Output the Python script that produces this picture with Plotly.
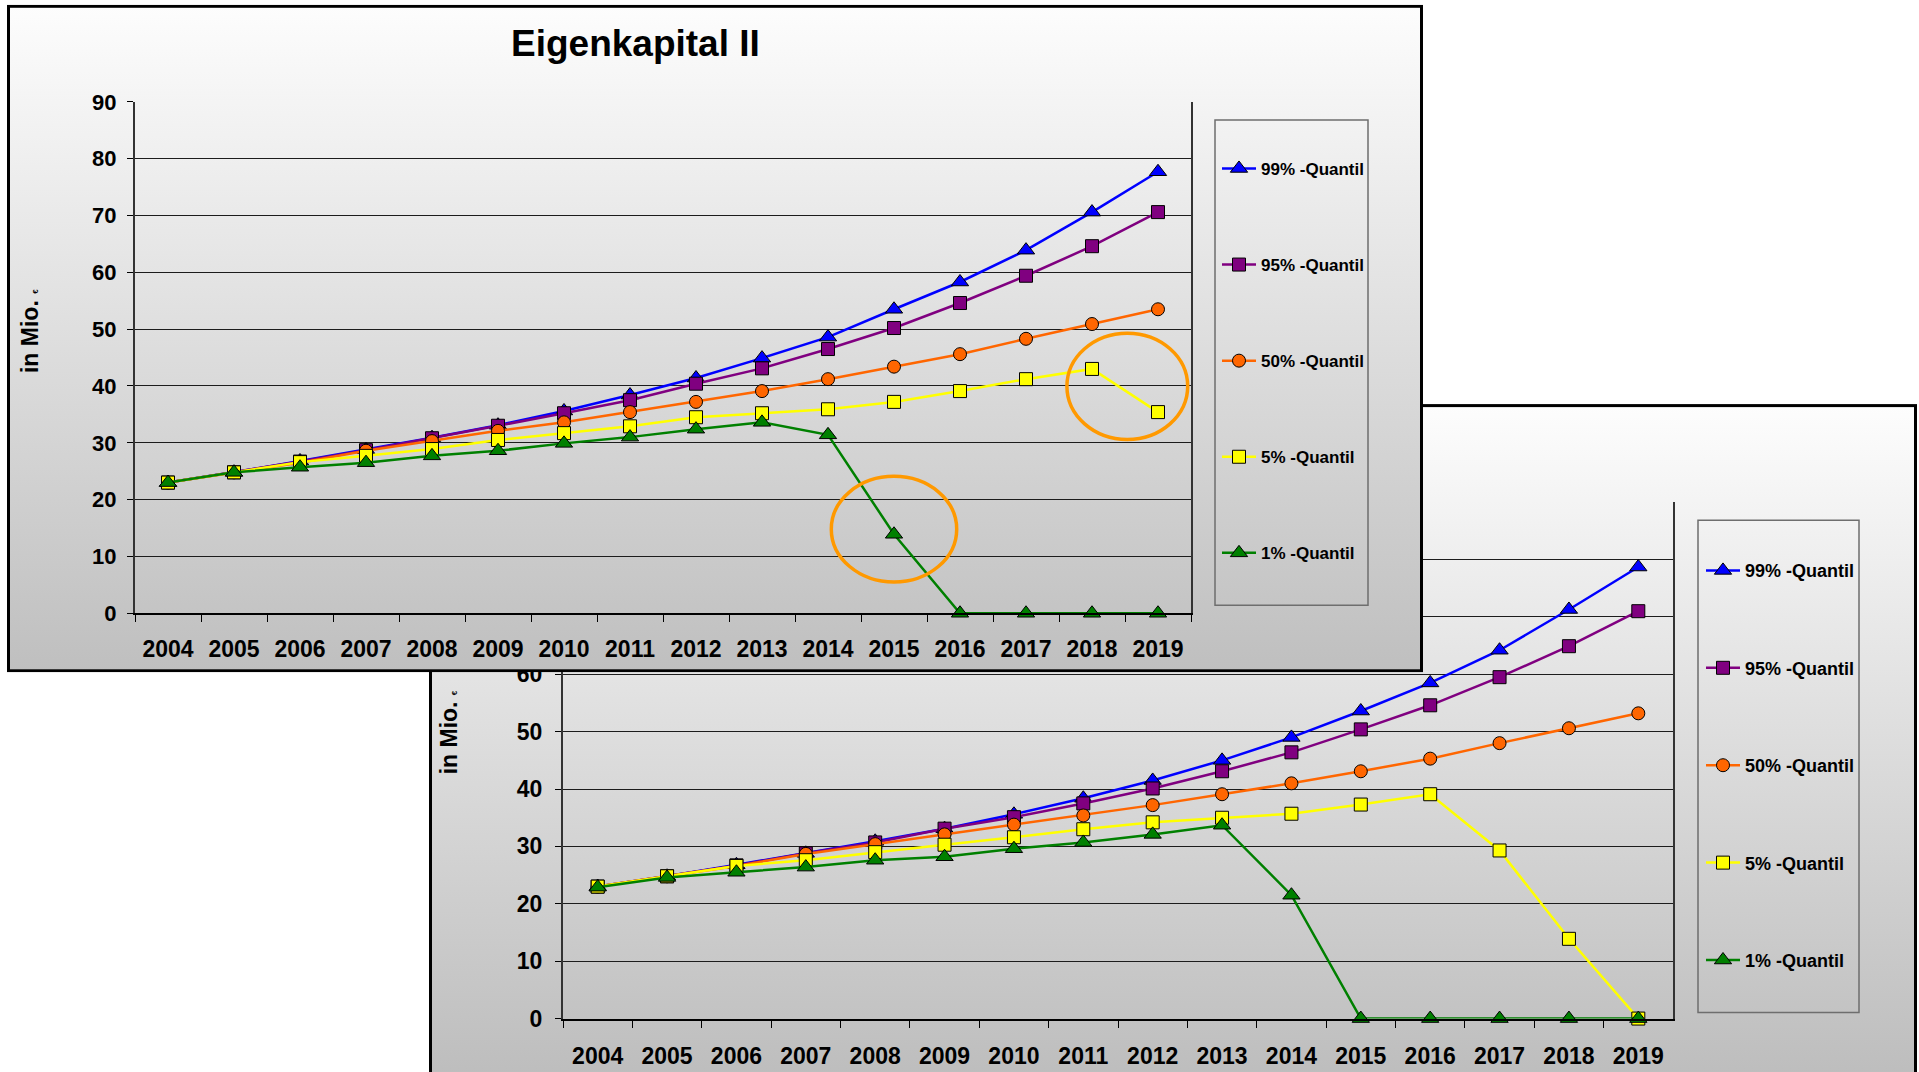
import base64
import plotly.graph_objects as go

W, H = 1919, 1072

# ---- data -------------------------------------------------------------
years = [str(y) for y in range(2004, 2020)]
quantile_names = ["99% -Quantil", "95% -Quantil", "50% -Quantil", "5% -Quantil", "1% -Quantil"]

# upper chart (Eigenkapital II)
upper_q99 = [23.0, 24.8, 26.8, 28.8, 30.9, 33.1, 35.6, 38.4, 41.4, 44.9, 48.6, 53.5, 58.3, 63.9, 70.6, 77.7]
upper_q95 = [23.0, 24.8, 26.7, 28.7, 30.8, 33.0, 35.2, 37.5, 40.4, 43.1, 46.5, 50.2, 54.6, 59.4, 64.6, 70.6]
upper_q50 = [23.0, 24.8, 26.5, 28.6, 30.3, 32.1, 33.6, 35.4, 37.2, 39.1, 41.2, 43.4, 45.6, 48.3, 50.9, 53.5]
upper_q05 = [23.0, 24.8, 26.6, 27.7, 28.9, 30.5, 31.7, 32.9, 34.5, 35.2, 35.9, 37.2, 39.1, 41.2, 43.0, 35.4]
upper_q01 = [23.0, 24.8, 25.7, 26.5, 27.7, 28.6, 29.9, 31.0, 32.4, 33.6, 31.4, 13.9, 0.0, 0.0, 0.0, 0.0]

# lower chart
lower_q99 = [23.0, 24.8, 26.8, 28.8, 30.9, 33.1, 35.6, 38.4, 41.5, 45.0, 49.0, 53.6, 58.5, 64.2, 71.3, 78.7]
lower_q95 = [23.0, 24.8, 26.7, 28.8, 30.7, 33.1, 35.1, 37.5, 40.1, 43.1, 46.4, 50.4, 54.6, 59.5, 64.9, 71.0]
lower_q50 = [23.0, 24.8, 26.6, 28.7, 30.4, 32.1, 33.8, 35.4, 37.2, 39.1, 41.0, 43.1, 45.3, 48.0, 50.6, 53.2]
lower_q05 = [23.0, 24.8, 26.6, 27.6, 29.0, 30.3, 31.6, 33.0, 34.2, 35.0, 35.7, 37.3, 39.1, 29.3, 13.9, 0.0]
lower_q01 = [22.9, 24.6, 25.5, 26.4, 27.6, 28.2, 29.6, 30.7, 32.1, 33.7, 21.5, 0.0, 0.0, 0.0, 0.0, 0.0]

y_ticks = list(range(0, 91, 10))

upper_series = [upper_q99, upper_q95, upper_q50, upper_q05, upper_q01]
lower_series = [lower_q99, lower_q95, lower_q50, lower_q05, lower_q01]

# ---- style ------------------------------------------------------------
colors = ["#0000FF", "#800080", "#FF6600", "#FFFF00", "#008000"]
symbols = ["triangle-up", "square", "circle", "square", "triangle-up"]
marker_sizes = [15, 13, 13, 13, 15]
FONT = "Liberation Sans, Arial, Helvetica, sans-serif"

# vertical placement: rows are given in page pixels; the figure is laid out
# so that a row r lands at ROW_OFF + ROW_SCALE * r on the page
ROW_OFF, ROW_SCALE = 13.2, 0.975


def fx(px):
    return px / W


def row(py):
    return (py - ROW_OFF) / ROW_SCALE


def fy(py):
    return 1 - row(py) / H


# plot areas in pixels: left, top, right, bottom
UP = (135, 102, 1191, 613)
LO = (563, 502, 1673, 1018)


def panel_uri(w, h, top_col, bottom_col, stroke=3):
    s = stroke / 2
    svg = (
        f'<svg xmlns="http://www.w3.org/2000/svg" width="{w}" height="{h}" '
        f'viewBox="0 0 {w} {h}" preserveAspectRatio="none">'
        '<defs><linearGradient id="g" x1="0" y1="0" x2="0" y2="1">'
        f'<stop offset="0" stop-color="{top_col}"/>'
        f'<stop offset="1" stop-color="{bottom_col}"/>'
        '</linearGradient></defs>'
        f'<rect x="{s}" y="{s}" width="{w - stroke}" height="{h - stroke}" '
        f'fill="url(#g)" stroke="#000000" stroke-width="{stroke}"/></svg>'
    )
    return "data:image/svg+xml;base64," + base64.b64encode(svg.encode()).decode()


fig = go.Figure()

# lower chart traces (subplot xy, drawn first)
for i, (name, vals) in enumerate(zip(quantile_names, lower_series)):
    fig.add_trace(go.Scatter(
        x=years, y=vals, name=name, xaxis="x", yaxis="y",
        legend="legend2", legendgroup=f"lo{i}",
        mode="lines+markers", cliponaxis=False,
        line=dict(color=colors[i], width=2.5),
        marker=dict(symbol=symbols[i], size=marker_sizes[i], color=colors[i],
                    line=dict(color="black", width=1)),
        hoverinfo="skip",
    ))

# upper chart traces (subplot x2y2, drawn over the lower one)
for i, (name, vals) in enumerate(zip(quantile_names, upper_series)):
    fig.add_trace(go.Scatter(
        x=years, y=vals, name=name, xaxis="x2", yaxis="y2",
        legend="legend", legendgroup=f"up{i}",
        mode="lines+markers", cliponaxis=False,
        line=dict(color=colors[i], width=2.5),
        marker=dict(symbol=symbols[i], size=marker_sizes[i], color=colors[i],
                    line=dict(color="black", width=1)),
        hoverinfo="skip",
    ))


def x_axis(box, anchor, size, standoff):
    l, t, r, b = box
    return dict(
        domain=[fx(l), fx(r)], anchor=anchor, type="category",
        range=[-0.5, len(years) - 0.5], tickson="boundaries",
        ticks="outside", ticklen=7, tickwidth=1, tickcolor="black",
        showline=True, linecolor="black", linewidth=2, mirror=False,
        showgrid=False, zeroline=False, fixedrange=True,
        tickfont=dict(family=FONT, size=size, color="black", weight="bold"),
        ticklabelstandoff=standoff,
    )


def y_axis(box, anchor, size, standoff):
    l, t, r, b = box
    return dict(
        domain=[fy(b), fy(t)], anchor=anchor, range=[0, 90],
        tickvals=y_ticks, ticks="outside", ticklen=6, tickwidth=1,
        tickcolor="black", showline=True, linecolor="#333333", linewidth=2,
        mirror=True, showgrid=True, gridcolor="#1c1c1c", gridwidth=1,
        zeroline=False, fixedrange=True,
        tickfont=dict(family=FONT, size=size, color="black", weight="bold"),
        ticklabelstandoff=standoff,
    )


# panel frames (pixel boxes)
UP_PANEL = (7, 5, 1423, 672)
LO_PANEL = (429, 404, 1917, 1090)

ul, ut, ur, ub = UP
up_w, up_h = ur - ul, ub - ut
pl, pt, pr, pb = UP_PANEL

images = [
    # lower panel background, under everything
    dict(source=panel_uri(LO_PANEL[2] - LO_PANEL[0], LO_PANEL[3] - LO_PANEL[1], "#fdfdfd", "#bcbcbc"),
         xref="paper", yref="paper", x=fx(LO_PANEL[0]), y=fy(LO_PANEL[1]),
         sizex=(LO_PANEL[2] - LO_PANEL[0]) / W, sizey=fy(LO_PANEL[1]) - fy(LO_PANEL[3]),
         xanchor="left", yanchor="top", sizing="stretch", layer="below"),
    # upper panel background, in the upper subplot's own layer so it hides the lower chart
    dict(source=panel_uri(pr - pl, pb - pt, "#fdfdfd", "#bfbfbf"),
         xref="x2 domain", yref="y2 domain",
         x=(pl - ul) / up_w, y=(ub - pt) / up_h,
         sizex=(pr - pl) / up_w, sizey=(pb - pt) / up_h,
         xanchor="left", yanchor="top", sizing="stretch", layer="below"),
]

shapes = [
    # legend frames
    dict(type="rect", xref="paper", yref="paper", layer="above",
         x0=fx(1215), x1=fx(1368), y0=fy(605), y1=fy(120),
         line=dict(color="#6e6e6e", width=1.5), fillcolor="rgba(0,0,0,0)"),
    dict(type="rect", xref="paper", yref="paper", layer="above",
         x0=fx(1698), x1=fx(1859), y0=fy(1012), y1=fy(520),
         line=dict(color="#6e6e6e", width=1.5), fillcolor="rgba(0,0,0,0)"),
    # highlight rings around the 2015 and 2018/2019 values
    dict(type="circle", xref="x2", yref="y2", layer="above",
         x0=10.05, x1=11.95, y0=5.5, y1=24.1,
         line=dict(color="#FF9900", width=3.5)),
    dict(type="circle", xref="x2", yref="y2", layer="above",
         x0=13.62, x1=15.45, y0=30.6, y1=49.3,
         line=dict(color="#FF9900", width=3.5)),
]

euro = "<span style='font-size:8px'>€</span>"
annotations = [
    dict(text="<b>Eigenkapital II</b>", xref="paper", yref="paper",
         x=fx(635), y=fy(44), xanchor="center", yanchor="middle", showarrow=False,
         font=dict(family=FONT, size=37, color="black")),
    dict(text=f"<b>in Mio. {euro}</b>", xref="paper", yref="paper",
         x=fx(30), y=fy(331), xanchor="center", yanchor="middle", showarrow=False,
         textangle=-90, font=dict(family=FONT, size=23, color="black")),
    dict(text=f"<b>in Mio. {euro}</b>", xref="paper", yref="paper",
         x=fx(449), y=fy(732), xanchor="center", yanchor="middle", showarrow=False,
         textangle=-90, font=dict(family=FONT, size=23, color="black")),
]

legend_common = dict(
    bgcolor="rgba(0,0,0,0)", borderwidth=0, xanchor="left", yanchor="top",
    itemwidth=34, itemclick=False, itemdoubleclick=False,
)

fig.update_layout(
    width=W, height=H, autosize=False,
    margin=dict(l=0, r=0, t=0, b=0, pad=0),
    paper_bgcolor="white", plot_bgcolor="rgba(0,0,0,0)",
    font=dict(family=FONT, color="black"),
    xaxis=x_axis(LO, "y", 23, 16),
    yaxis=y_axis(LO, "x", 23, 8),
    xaxis2=x_axis(UP, "y2", 23, 14),
    yaxis2=y_axis(UP, "x2", 22, 6),
    legend=dict(**legend_common, x=fx(1217), y=fy(151), tracegroupgap=71,
                font=dict(family=FONT, size=17, color="black", weight="bold")),
    legend2=dict(**legend_common, x=fx(1701), y=fy(552), tracegroupgap=71,
                 font=dict(family=FONT, size=18, color="black", weight="bold")),
    images=images,
    shapes=shapes,
    annotations=annotations,
    showlegend=True,
)

page_css = (
    "document.documentElement.style.margin='0';"
    "document.body.style.margin='0';"
    "document.body.style.overflow='hidden';"
)

fig.write_html("out.html", config={"displayModeBar": False, "staticPlot": True},
               post_script=page_css)
